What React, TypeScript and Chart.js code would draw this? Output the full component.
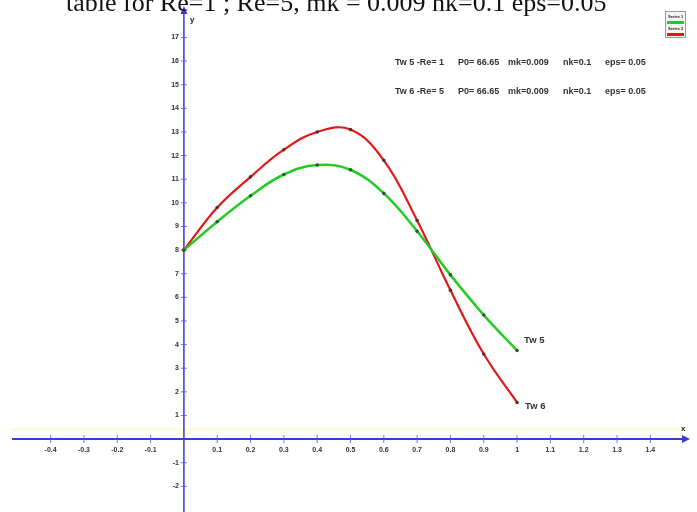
import React, { useEffect, useRef } from 'react';
import { Chart, registerables } from 'chart.js';
Chart.register(...registerables);

const xValues = [0, 0.1, 0.2, 0.3, 0.4, 0.5, 0.6, 0.7, 0.8, 0.9, 1.0];
const tw5 = [8, 9.2, 10.3, 11.2, 11.6, 11.4, 10.4, 8.8, 6.95, 5.25, 3.75];
const tw6 = [8, 9.8, 11.1, 12.25, 13.0, 13.1, 11.8, 9.25, 6.3, 3.6, 1.55];
const xTickValues = [-0.4, -0.3, -0.2, -0.1, 0.1, 0.2, 0.3, 0.4, 0.5, 0.6, 0.7, 0.8, 0.9, 1, 1.1, 1.2, 1.3, 1.4];
const yTickValues = [-2, -1, 1, 2, 3, 4, 5, 6, 7, 8, 9, 10, 11, 12, 13, 14, 15, 16, 17];
const titleText = 'table for Re=1 ; Re=5, mk = 0.009 nk=0.1 eps=0.05';
const row1 = ['Tw 5 -Re= 1', 'P0= 66.65', 'mk=0.009', 'nk=0.1', 'eps= 0.05'];
const row2 = ['Tw 6 -Re= 5', 'P0= 66.65', 'mk=0.009', 'nk=0.1', 'eps= 0.05'];
const seriesNames = ['Series 1', 'Series 2'];
const endLabels = ['Tw 5', 'Tw 6'];

const AXIS_BLUE = '#3a3ad8';
const GREEN = '#22cc22';
const RED = '#e01818';

const fmtX = (v: number) => (Number.isInteger(v) ? String(v) : v.toFixed(1));

const decorPlugin = {
  id: 'decor',
  beforeDatasetsDraw(chart: any) {
    const ctx = chart.ctx;
    const xs = chart.scales.x;
    const ys = chart.scales.y;
    const x0 = xs.getPixelForValue(0);
    const y0 = ys.getPixelForValue(0);
    ctx.save();
    // faint band above x axis
    ctx.fillStyle = 'rgba(255,250,200,0.6)';
    ctx.fillRect(12, y0 - 11, 672, 3);
    ctx.strokeStyle = AXIS_BLUE;
    ctx.fillStyle = AXIS_BLUE;
    // x axis
    ctx.lineWidth = 2;
    ctx.beginPath();
    ctx.moveTo(12, y0);
    ctx.lineTo(684, y0);
    ctx.stroke();
    ctx.beginPath();
    ctx.moveTo(690, y0);
    ctx.lineTo(682, y0 - 4);
    ctx.lineTo(682, y0 + 4);
    ctx.closePath();
    ctx.fill();
    // y axis
    ctx.lineWidth = 1.5;
    ctx.beginPath();
    ctx.moveTo(x0, 14);
    ctx.lineTo(x0, 512);
    ctx.stroke();
    ctx.beginPath();
    ctx.moveTo(x0, 6);
    ctx.lineTo(x0 - 3.5, 14);
    ctx.lineTo(x0 + 3.5, 14);
    ctx.closePath();
    ctx.fill();
    // tick marks crossing axes
    ctx.lineWidth = 1;
    ctx.strokeStyle = 'rgba(80,80,220,0.8)';
    for (const v of xTickValues) {
      const px = xs.getPixelForValue(v);
      ctx.beginPath();
      ctx.moveTo(px, y0 - 4);
      ctx.lineTo(px, y0 + 4);
      ctx.stroke();
    }
    for (const v of yTickValues) {
      const py = ys.getPixelForValue(v);
      ctx.beginPath();
      ctx.moveTo(x0 - 3, py);
      ctx.lineTo(x0 + 3, py);
      ctx.stroke();
    }
    // tick labels
    ctx.fillStyle = '#333';
    ctx.font = 'bold 7px "Liberation Sans", sans-serif';
    ctx.textAlign = 'center';
    ctx.textBaseline = 'middle';
    for (const v of xTickValues) {
      ctx.fillText(fmtX(v), xs.getPixelForValue(v), y0 + 11);
    }
    ctx.textAlign = 'right';
    for (const v of yTickValues) {
      ctx.fillText(String(v), x0 - 5, ys.getPixelForValue(v));
    }
    ctx.restore();
  },
  afterDatasetsDraw(chart: any) {
    const ctx = chart.ctx;
    const xs = chart.scales.x;
    const ys = chart.scales.y;
    const x0 = xs.getPixelForValue(0);
    const y0 = ys.getPixelForValue(0);
    ctx.save();
    ctx.fillStyle = '#222';
    ctx.font = 'bold 8px "Liberation Sans", sans-serif';
    ctx.textBaseline = 'middle';
    ctx.textAlign = 'left';
    ctx.fillText('y', x0 + 6, 20);
    ctx.fillText('x', 681, y0 - 10);
    ctx.fillStyle = '#333';
    ctx.font = 'bold 9px "Liberation Sans", sans-serif';
    const cols = [395, 458, 508, 563, 605];
    row1.forEach((t, i) => ctx.fillText(t, cols[i], 63));
    row2.forEach((t, i) => ctx.fillText(t, cols[i], 92));
    ctx.font = 'bold 9.5px "Liberation Sans", sans-serif';
    const lx = xs.getPixelForValue(xValues[xValues.length - 1]);
    ctx.fillText(endLabels[0], lx + 7, ys.getPixelForValue(tw5[tw5.length - 1]) - 10);
    ctx.fillText(endLabels[1], lx + 8, ys.getPixelForValue(tw6[tw6.length - 1]) + 4);
    // mini legend
    ctx.fillStyle = '#f4f4f4';
    ctx.fillRect(665, 11, 21, 27);
    ctx.strokeStyle = '#999';
    ctx.lineWidth = 1;
    ctx.strokeRect(665.5, 11.5, 20, 26);
    ctx.font = 'bold 4px "Liberation Sans", sans-serif';
    ctx.fillStyle = '#222';
    ctx.fillText(seriesNames[0], 668, 17);
    ctx.fillText(seriesNames[1], 668, 29);
    ctx.fillStyle = GREEN;
    ctx.fillRect(667, 21, 17, 3);
    ctx.fillStyle = RED;
    ctx.fillRect(667, 33, 17, 3);
    ctx.restore();
  },
};

export default function App() {
  const ref = useRef<HTMLCanvasElement>(null);
  useEffect(() => {
    if (!ref.current) return;
    const chart = new Chart(ref.current, {
      type: 'line',
      data: {
        datasets: [
          {
            label: seriesNames[0],
            data: xValues.map((x, i) => ({ x, y: tw5[i] })),
            borderColor: GREEN,
            borderWidth: 2.5,
            tension: 0.4,
            pointRadius: 1.8,
            pointBackgroundColor: '#335533',
            pointBorderWidth: 0,
          },
          {
            label: seriesNames[1],
            data: xValues.map((x, i) => ({ x, y: tw6[i] })),
            borderColor: RED,
            borderWidth: 2.2,
            tension: 0.4,
            pointRadius: 1.8,
            pointBackgroundColor: '#553333',
            pointBorderWidth: 0,
          },
        ],
      },
      options: {
        responsive: false,
        animation: false,
        layout: { padding: 0 },
        plugins: { legend: { display: false }, tooltip: { enabled: false } },
        scales: {
          x: {
            type: 'linear',
            min: -0.54,
            max: 1.528,
            display: false,
          },
          y: {
            type: 'linear',
            min: -2.917,
            max: 18.417,
            display: false,
          },
        },
      },
      plugins: [decorPlugin],
    });
    return () => chart.destroy();
  }, []);
  return (
    <div style={{ position: 'fixed', left: 0, top: 0, width: 697, height: 512, background: '#fff', overflow: 'hidden' }}>
      <canvas ref={ref} width={697} height={512} style={{ position: 'absolute', left: 0, top: 0 }} />
      <div
        style={{
          position: 'absolute',
          left: 66,
          top: -10,
          fontFamily: '"Liberation Serif", serif',
          fontSize: 26,
          lineHeight: '26px',
          whiteSpace: 'nowrap',
          color: '#111',
        }}
      >
        {titleText}
      </div>
    </div>
  );
}
